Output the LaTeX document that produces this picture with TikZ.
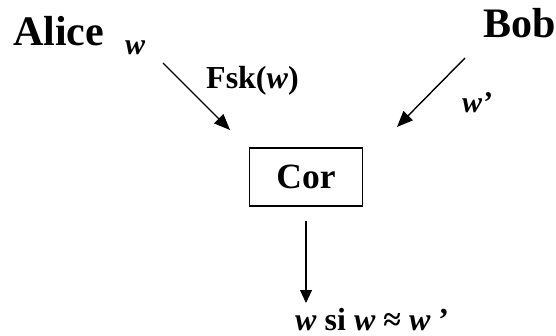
\documentclass[tikz,border=0pt]{standalone}
\usepackage{fontspec}
\setmainfont{Liberation Serif}
\usetikzlibrary{arrows.meta}
\begin{document}
\begin{tikzpicture}[x=1pt,y=-1pt,
  lbl/.style={inner sep=0pt,anchor=base west,font=\fontsize{#1}{#1}\selectfont\bfseries},
  flow/.style={line width=1.4pt,-{Triangle[length=16pt,width=13pt]}},
  down/.style={line width=1.1pt,-{Triangle[length=13pt,width=12pt]}},
  corbox/.style={draw,line width=1.1pt,minimum width=113pt,minimum height=58pt,inner sep=0pt,
    font=\fontsize{35.5}{35.5}\selectfont\bfseries}]
  \useasboundingbox (0,0) rectangle (556,336);
  % parties
  \node[lbl=42] (alice) at (13,46) {Alice};
  \node[lbl=42,anchor=base east] (bob) at (556,38) {Bob};
  % messages
  \node[lbl=30] (wa) at (125,55) {\itshape w};
  \node[lbl=32] (fsk) at (206,89) {Fsk(\textit{w})};
  \node[lbl=30] (wb) at (462,113) {\itshape w’};
  % correction block
  \node[corbox] (cor) at (306,177) {Cor};
  \node[lbl=32] (out) at (295,330) {\textit{w} si \textit{w} ≈ \textit{w} ’};
  % arrow end points
  \coordinate (a1) at (163,63);
  \coordinate (a2) at (230,130);
  \coordinate (b1) at (465,58);
  \coordinate (b2) at (397,127);
  \coordinate (c1) at (306,221);
  \coordinate (c2) at (306,303);
  \draw[flow] (a1) -- (a2);
  \draw[flow] (b1) -- (b2);
  \draw[down] (c1) -- (c2);
\end{tikzpicture}
\end{document}
